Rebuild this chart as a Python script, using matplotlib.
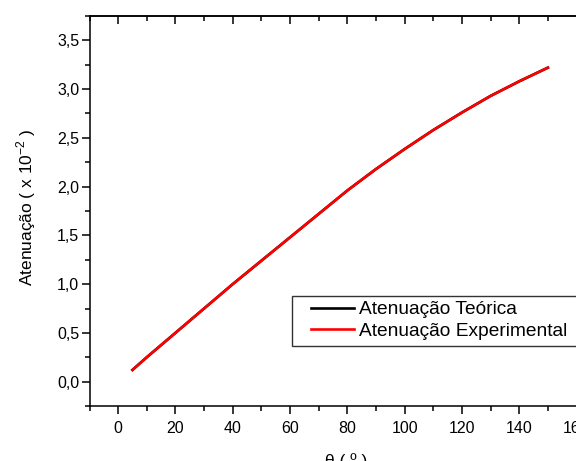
import matplotlib
matplotlib.use("Agg")
import matplotlib.pyplot as plt
from matplotlib.patches import Rectangle
from matplotlib.ticker import FixedLocator, MultipleLocator

# ============================
#  Data
# ============================
theta = [5, 10, 20, 30, 40, 50, 60, 70, 80, 90, 100, 110, 120, 130, 140, 150]
aten_teorica = [0.12, 0.25, 0.50, 0.75, 1.00, 1.24, 1.48, 1.72, 1.96, 2.18,
                2.385, 2.58, 2.76, 2.93, 3.08, 3.22]
aten_experimental = [0.12, 0.25, 0.50, 0.75, 1.00, 1.24, 1.48, 1.72, 1.96, 2.18,
                     2.385, 2.58, 2.76, 2.93, 3.08, 3.22]

xticks = [0, 20, 40, 60, 80, 100, 120, 140, 160]
xtick_labels = ["0", "20", "40", "60", "80", "100", "120", "140", "160"]
yticks = [0.0, 0.5, 1.0, 1.5, 2.0, 2.5, 3.0, 3.5]
ytick_labels = ["0,0", "0,5", "1,0", "1,5", "2,0", "2,5", "3,0", "3,5"]

plt.rcParams["font.family"] = ["Liberation Sans", "DejaVu Sans"]
plt.rcParams["mathtext.fontset"] = "custom"
plt.rcParams["mathtext.rm"] = "Liberation Sans"

W, H = 576, 461
fig = plt.figure(figsize=(W / 100, H / 100), dpi=100)

# axes box in pixels: left 89.5, right 576.5, top 16, bottom 406
left, right, top, bottom = 89.5, 576.5, 16, 406
ax = fig.add_axes([left / W, (H - bottom) / H, (right - left) / W, (bottom - top) / H])

ax.plot(theta, aten_teorica, color="black", lw=1.9, label="Atenuação Teórica")
ax.plot(theta, aten_experimental, color="#ff0000", lw=1.9, label="Atenuação Experimental")

ax.set_xlim(-10, 160)
ax.set_ylim(-0.25, 3.75)

ax.xaxis.set_major_locator(FixedLocator(xticks))
ax.set_xticklabels(xtick_labels)
ax.xaxis.set_minor_locator(MultipleLocator(10))
ax.yaxis.set_major_locator(FixedLocator(yticks))
ax.set_yticklabels(ytick_labels)
ax.yaxis.set_minor_locator(MultipleLocator(0.25))

for sp in ["left", "bottom", "top"]:
    ax.spines[sp].set_linewidth(1.1)
ax.spines["right"].set_visible(False)

ax.tick_params(which="major", length=6, width=1.1, labelsize=11.5)
ax.tick_params(which="minor", length=3.5, width=1.1)
ax.tick_params(axis="y", which="major", pad=1.5)
ax.tick_params(axis="x", which="major", pad=4.5)

# top axis: ticks pointing inward, no labels
top_ax = ax.twiny()
top_ax.set_xlim(ax.get_xlim())
top_ax.xaxis.set_major_locator(FixedLocator(xticks))
top_ax.xaxis.set_minor_locator(MultipleLocator(10))
top_ax.tick_params(axis="x", which="both", direction="in", labeltop=False, width=1.1)
top_ax.tick_params(axis="x", which="major", length=6)
top_ax.tick_params(axis="x", which="minor", length=3.5)
for sp in ["left", "bottom", "right"]:
    top_ax.spines[sp].set_visible(False)
top_ax.spines["top"].set_linewidth(1.1)

ax.set_ylabel("Atenuação ( x 10$^{\\mathrm{-2}}$ )", fontsize=12.5)
ax.yaxis.set_label_coords(-0.106, 0.51)
ax.set_xlabel("θ ( º )", fontsize=12.5)
ax.xaxis.set_label_coords(0.527, -0.122)

# legend box (Origin style, runs past the right edge)
box = Rectangle((292 / W, (H - 346) / H), (W + 20 - 292) / W, 50 / H,
                transform=fig.transFigure, facecolor="white",
                edgecolor="#333333", linewidth=1.0, zorder=4, clip_on=False)
ax.add_patch(box)
leg = ax.legend(loc="upper left", bbox_to_anchor=(311 / W, (H - 301) / H),
                bbox_transform=fig.transFigure, borderaxespad=0, borderpad=0,
                fontsize=13.8, frameon=False,
                handlelength=2.25, handletextpad=0.27, labelspacing=0.2)
leg.set_zorder(6)

fig.savefig("out.png", dpi=100)
